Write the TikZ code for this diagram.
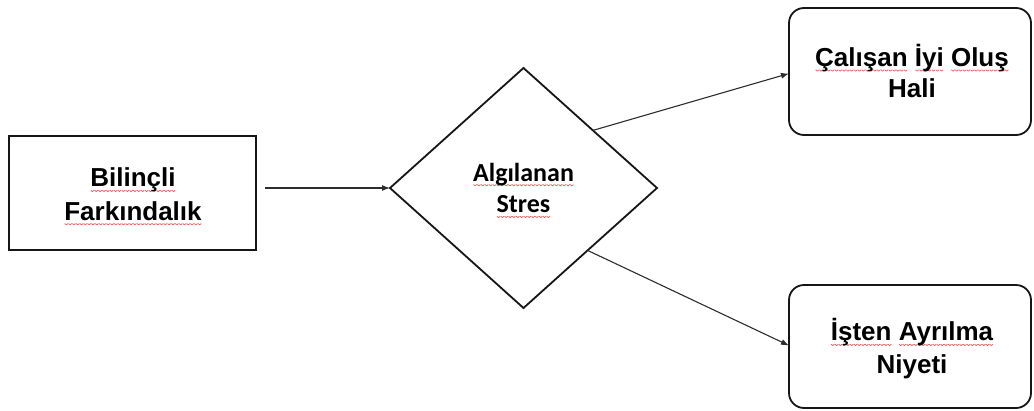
\documentclass[tikz,border=0pt]{standalone}
\usepackage{fontspec}
\setmainfont{Liberation Sans}
\newfontfamily\calibrifont{Carlito}
\usetikzlibrary{shapes.geometric,arrows.meta,calc}

\definecolor{spellred}{RGB}{232,96,96}
\definecolor{edgeblack}{RGB}{22,22,22}
\definecolor{arrowgray}{RGB}{45,45,45}

% wavy red underline used as a spell-check mark under single words
\newlength\spellwd
\newcommand\spellwave{\tikz[baseline=0pt]\draw[spellred,line width=0.75pt,line join=round,line cap=round] (0pt,0pt) -- (1.5pt,-1.3pt) -- (3pt,0pt);}
\newcommand\spell[1]{\settowidth\spellwd{#1}\rlap{\raisebox{-3.6pt}[0pt][0pt]{\hbox to \spellwd{\xleaders\hbox{\spellwave}\hfill}}}#1}

\begin{document}
\begin{tikzpicture}[x=1pt,y=-1pt,
  boxshape/.style={draw=edgeblack,line width=1.8pt,inner sep=0pt,outer sep=0pt},
  lbl/.style={font=\fontsize{26}{32}\selectfont\bfseries,anchor=base,inner sep=0pt},
  dlbl/.style={font=\calibrifont\fontsize{26}{32}\selectfont\bfseries,anchor=base,inner sep=0pt},
  arr/.style={draw=arrowgray,line width=1.1pt,-{Latex[length=8pt,width=6pt]}}]

\fill[white] (0,0) rectangle (1034,410);
\useasboundingbox (0,0) rectangle (1034,410);

% boxes
\node[boxshape,minimum width=247pt,minimum height=114pt] (bf) at (132.5,193) {};
\node[boxshape,diamond,minimum width=267pt,minimum height=240pt] (dm) at (523.5,188) {};
\node[boxshape,rounded corners=15pt,minimum width=242pt,minimum height=127pt] (wb) at (910,71.5) {};
\node[boxshape,rounded corners=15pt,minimum width=242pt,minimum height=123pt] (ia) at (910,346.5) {};

% labels
\node[lbl] (bf1) at (133,186.7) {\spell{Bilinçli}};
\node[lbl] (bf2) at (133,220) {\spell{Farkındalık}};
\node[dlbl] (dm1) at (523.5,181) {\spell{Algılanan}};
\node[dlbl] (dm2) at (523.5,212.7) {\spell{Stres}};
\node[lbl] (wb1) at (912,66.3) {\spell{Çalışan} \spell{İyi} \spell{Oluş}};
\node[lbl] (wb2) at (912,97.3) {Hali};
\node[lbl] (ia1) at (912,340.7) {\spell{İşten} \spell{Ayrılma}};
\node[lbl] (ia2) at (912,373.3) {Niyeti};

% connectors
\draw[arr] ($(bf.east |- dm.west)+(9,0)$) -- (dm.west);
\draw[arr] ($(dm.north)!0.52!(dm.east)$) -- ([yshift=-2pt]wb.west);
\draw[arr] ($(dm.east)!0.52!(dm.south)$) -- ([yshift=1pt]ia.west);
\end{tikzpicture}
\end{document}
